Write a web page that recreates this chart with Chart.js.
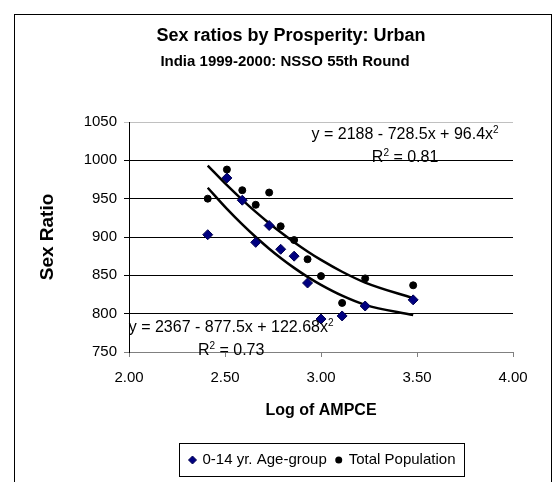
<!DOCTYPE html>
<html>
<head>
<meta charset="utf-8">
<script src="https://cdn.jsdelivr.net/npm/chart.js@4.4.1/dist/chart.umd.min.js"></script>
<style>
    html, body { margin: 0; padding: 0; background: #fff; }
</style>
</head>
<body>
<canvas id="sexRatioChart" width="552" height="482"></canvas>
<script>
// values
const logAmpce = [2.41, 2.51, 2.59, 2.66, 2.73, 2.79, 2.86, 2.93, 3.00, 3.11, 3.23, 3.48];
const ratioAge0to14 = [903, 977, 948, 893, 915, 884, 875, 840, 793, 797, 810, 818];
const ratioTotal = [950, 988, 961, 942, 958, 914, 896, 871, 849, 814, 846, 837];
const seriesNames = ['0-14 yr. Age-group', 'Total Population'];
const titleLines = ['Sex ratios by Prosperity: Urban', 'India 1999-2000: NSSO 55th Round'];
const eqTotal = ['y = 2188 - 728.5x + 96.4x', '2'];
const r2Total = ['R', '2', ' = 0.81'];
const eqAge = ['y = 2367 - 877.5x + 122.68x', '2'];
const r2Age = ['R', '2', ' = 0.73'];

const FONT = "'Liberation Sans', Arial, sans-serif";
const DIAMOND_FILL = '#000080';

// least squares quadratic, same as the excel trendline
function quadFit(xs, ys) {
    const S = [0, 0, 0, 0, 0], T = [0, 0, 0];
    xs.forEach(function(x, i) {
        let p = 1;
        for (let k = 0; k < 5; k++) {
            S[k] += p;
            if (k < 3) T[k] += p * ys[i];
            p *= x;
        }
    });
    const m = [[S[0], S[1], S[2], T[0]], [S[1], S[2], S[3], T[1]], [S[2], S[3], S[4], T[2]]];
    for (let i = 0; i < 3; i++) {
        for (let j = i + 1; j < 3; j++) {
            const f = m[j][i] / m[i][i];
            for (let k = i; k < 4; k++) m[j][k] -= f * m[i][k];
        }
    }
    const c = [0, 0, 0];
    for (let i = 2; i >= 0; i--) {
        let s = m[i][3];
        for (let k = i + 1; k < 3; k++) s -= m[i][k] * c[k];
        c[i] = s / m[i][i];
    }
    return c;
}

function trendPoints(xs, ys) {
    const c = quadFit(xs, ys);
    return xs.map(function(x) { return { x: x, y: c[0] + c[1] * x + c[2] * x * x }; });
}

function toPoints(xs, ys) {
    return xs.map(function(x, i) { return { x: x, y: ys[i] }; });
}

// text with superscript pieces: odd index = superscript
function drawSupText(ctx, parts, cx, cy, size) {
    const supSize = Math.round(size * 0.65);
    let total = 0;
    parts.forEach(function(p, i) {
        ctx.font = (i % 2 ? supSize : size) + 'px ' + FONT;
        total += ctx.measureText(p).width;
    });
    let x = cx - total / 2;
    ctx.textAlign = 'left';
    ctx.textBaseline = 'middle';
    parts.forEach(function(p, i) {
        const sup = i % 2 === 1;
        ctx.font = (sup ? supSize : size) + 'px ' + FONT;
        ctx.fillText(p, x, sup ? cy - size * 0.3 : cy);
        x += ctx.measureText(p).width;
    });
}

const decorPlugin = {
    id: 'decor',
    afterDraw: function(chart) {
        const ctx = chart.ctx;
        const area = chart.chartArea;
        ctx.save();
        ctx.fillStyle = '#000';
        ctx.strokeStyle = '#000';

        // outer frame
        ctx.lineWidth = 1;
        ctx.strokeRect(14.5, 14.5, 537, 480);

        // titles
        ctx.textAlign = 'center';
        ctx.textBaseline = 'middle';
        ctx.font = 'bold 18px ' + FONT;
        ctx.fillText(titleLines[0], 291, 36);
        ctx.font = 'bold 15px ' + FONT;
        ctx.fillText(titleLines[1], 285, 62);

        // trendline equations
        drawSupText(ctx, eqTotal, area.left + area.width * 0.719, area.top + 13, 16);
        drawSupText(ctx, r2Total, area.left + area.width * 0.719, area.top + 36, 16);
        drawSupText(ctx, eqAge, area.left + area.width * 0.266, area.bottom - 24, 16);
        drawSupText(ctx, r2Age, area.left + area.width * 0.266, area.bottom - 1, 16);

        // legend, boxed and centred under the plot area
        ctx.font = '15px ' + FONT;
        const w1 = ctx.measureText(seriesNames[0]).width;
        const w2 = ctx.measureText(seriesNames[1]).width;
        const inner = 8 + 6 + w1 + 8 + 8 + 6 + w2;
        const boxW = Math.round(inner + 18);
        const boxL = Math.round((area.left + area.right) / 2 - boxW / 2) + 0.5;
        const boxT = 443.5, boxH = 33, midY = boxT + boxH / 2;
        ctx.strokeRect(boxL, boxT, boxW, boxH);

        let x = boxL + 9;
        ctx.fillStyle = DIAMOND_FILL;
        ctx.strokeStyle = '#000050';
        ctx.beginPath();
        ctx.moveTo(x + 4, midY - 4); ctx.lineTo(x + 8, midY); ctx.lineTo(x + 4, midY + 4); ctx.lineTo(x, midY);
        ctx.closePath(); ctx.fill(); ctx.stroke();
        x += 8 + 6;
        ctx.fillStyle = '#000';
        ctx.textAlign = 'left';
        ctx.textBaseline = 'middle';
        ctx.fillText(seriesNames[0], x, midY);
        x += w1 + 8;
        ctx.beginPath();
        ctx.arc(x + 4, midY, 3.5, 0, Math.PI * 2);
        ctx.fill();
        x += 8 + 6;
        ctx.fillText(seriesNames[1], x, midY);
        ctx.restore();
    }
};

const ctx = document.getElementById('sexRatioChart').getContext('2d');

const sexRatioChart = new Chart(ctx, {
    type: 'scatter',
    data: {
        datasets: [
            {
                label: seriesNames[0],
                data: toPoints(logAmpce, ratioAge0to14),
                pointStyle: 'rectRot',
                pointRadius: 5,
                pointBackgroundColor: DIAMOND_FILL,
                pointBorderColor: '#000050',
                pointBorderWidth: 1
            },
            {
                label: seriesNames[1],
                data: toPoints(logAmpce, ratioTotal),
                pointStyle: 'circle',
                pointRadius: 3.5,
                pointBackgroundColor: '#000',
                pointBorderColor: '#000',
                pointBorderWidth: 1
            },
            {
                label: 'trend age',
                data: trendPoints(logAmpce, ratioAge0to14),
                showLine: true,
                pointRadius: 0,
                borderColor: '#000',
                borderWidth: 2.5,
                cubicInterpolationMode: 'monotone'
            },
            {
                label: 'trend total',
                data: trendPoints(logAmpce, ratioTotal),
                showLine: true,
                pointRadius: 0,
                borderColor: '#000',
                borderWidth: 2.5,
                cubicInterpolationMode: 'monotone'
            }
        ]
    },
    options: {
        responsive: false,
        animation: false,
        layout: {
            padding: { top: 122, left: 30, right: 39, bottom: 50 }
        },
        plugins: {
            legend: { display: false },
            title: { display: false },
            tooltip: { enabled: false }
        },
        scales: {
            x: {
                type: 'linear',
                min: 2,
                max: 4,
                afterFit: function(scale) { scale.height = 80; },
                ticks: {
                    stepSize: 0.5,
                    color: '#000',
                    padding: 12,
                    font: { family: FONT, size: 15 },
                    callback: function(v) { return v.toFixed(2); }
                },
                grid: {
                    drawOnChartArea: false,
                    drawTicks: true,
                    tickLength: 5,
                    color: '#808080'
                },
                border: { color: '#808080' },
                title: {
                    display: true,
                    text: 'Log of AMPCE',
                    color: '#000',
                    font: { family: FONT, size: 16, weight: 'bold' },
                    padding: { top: 4, bottom: 12 }
                }
            },
            y: {
                min: 750,
                max: 1050,
                afterFit: function(scale) { scale.width = 99; },
                ticks: {
                    stepSize: 50,
                    color: '#000',
                    padding: 7,
                    font: { family: FONT, size: 15 },
                    callback: function(v) { return String(v); }
                },
                grid: {
                    tickLength: 5,
                    color: function(c) {
                        if (c.tick && c.tick.value === 1050) return '#c0c0c0';
                        if (c.tick && c.tick.value === 750) return '#808080';
                        return '#000';
                    }
                },
                border: { color: '#000' },
                title: {
                    display: true,
                    text: 'Sex Ratio',
                    color: '#000',
                    font: { family: FONT, size: 19, weight: 'bold' },
                    padding: { top: 6, bottom: 0 }
                }
            }
        }
    },
    plugins: [decorPlugin]
});
</script>
</body>
</html>
